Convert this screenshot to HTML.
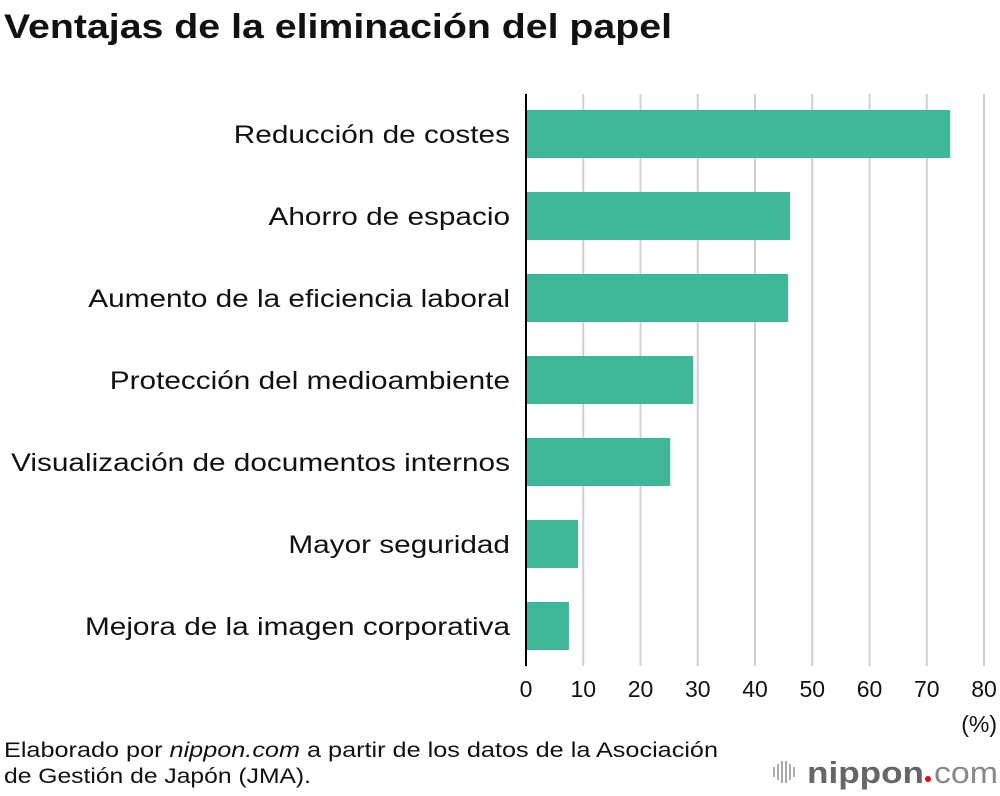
<!DOCTYPE html>
<html><head><meta charset="utf-8"><style>
body{margin:0;background:#fff;width:1000px;height:796px;overflow:hidden;font-family:"Liberation Sans",sans-serif}
svg{display:block}
</style></head><body>
<svg id="chart" width="1000" height="796" viewBox="0 0 1000 796" font-family="Liberation Sans, sans-serif">
<text x="4" y="38" font-size="34" font-weight="bold" fill="#111" textLength="668" lengthAdjust="spacingAndGlyphs">Ventajas de la eliminación del papel</text>
<g id="grid"></g>
<g id="bars"></g>
<g id="labels"></g>
<g id="ticks"></g>
<line x1="526" y1="94" x2="526" y2="666" stroke="#000" stroke-width="2"/>
<text x="997" y="732" font-size="23" text-anchor="end" fill="#111">(%)</text>
<text x="4" y="757" font-size="21" fill="#111" textLength="714" lengthAdjust="spacingAndGlyphs">Elaborado por <tspan font-style="italic">nippon.com</tspan> a partir de los datos de la Asociación</text>
<text x="4" y="783" font-size="21" fill="#111" textLength="307" lengthAdjust="spacingAndGlyphs">de Gestión de Japón (JMA).</text>
<g>
<g fill="#aaa"><rect x="773" y="767" width="2" height="10"/><rect x="777" y="764" width="2" height="16"/><rect x="781" y="761" width="2" height="22"/><rect x="785" y="761" width="2" height="22"/><rect x="789" y="764" width="2" height="16"/><rect x="793" y="767" width="2" height="10"/></g>
<text x="807" y="783" font-size="31" font-weight="bold" fill="#666" textLength="117" lengthAdjust="spacingAndGlyphs">nippon</text>
<circle cx="928" cy="779" r="3" fill="#e60012"/>
<text x="934" y="783" font-size="31" fill="#888" textLength="64" lengthAdjust="spacingAndGlyphs">com</text>
</g>
</svg>
<script>
const categories=["Reducción de costes","Ahorro de espacio","Aumento de la eficiencia laboral","Protección del medioambiente","Visualización de documentos internos","Mayor seguridad","Mejora de la imagen corporativa"];
const values=[74.1,46.1,45.8,29.2,25.2,9.1,7.5];
const tickValues=[0,10,20,30,40,50,60,70,80];
const tickLabels=["0","10","20","30","40","50","60","70","80"];
const NS="http://www.w3.org/2000/svg";
const x=v=>526+v*(984-526)/80;
const y=i=>110+i*82;
function mk(t,a){const e=document.createElementNS(NS,t);for(const k in a)e.setAttribute(k,a[k]);return e;}
const grid=document.getElementById('grid'),bars=document.getElementById('bars'),labels=document.getElementById('labels'),ticks=document.getElementById('ticks');
tickValues.forEach((v,i)=>{
 if(v>0){const l=mk('line',{x1:x(v),x2:x(v),y1:94,y2:666,stroke:'#d0d0d0','stroke-width':2});
 
 grid.appendChild(l);}
 const t=mk('text',{x:x(v),y:697,'font-size':23,'text-anchor':'middle',fill:'#111'});t.textContent=tickLabels[i];
 
 ticks.appendChild(t);
});
categories.forEach((c,i)=>{
 const r=mk('rect',{x:x(0),y:y(i),width:x(values[i])-x(0),height:48,fill:'#3fb897'});
 
 bars.appendChild(r);
 const t=mk('text',{x:510,y:y(i)+33,'font-size':25,'text-anchor':'end',fill:'#111'});t.textContent=c;
 
 labels.appendChild(t);
 const w=t.getComputedTextLength();
 t.setAttribute('textLength',(w*1.19).toFixed(1));
 t.setAttribute('lengthAdjust','spacingAndGlyphs');
});
</script>
</body></html>
